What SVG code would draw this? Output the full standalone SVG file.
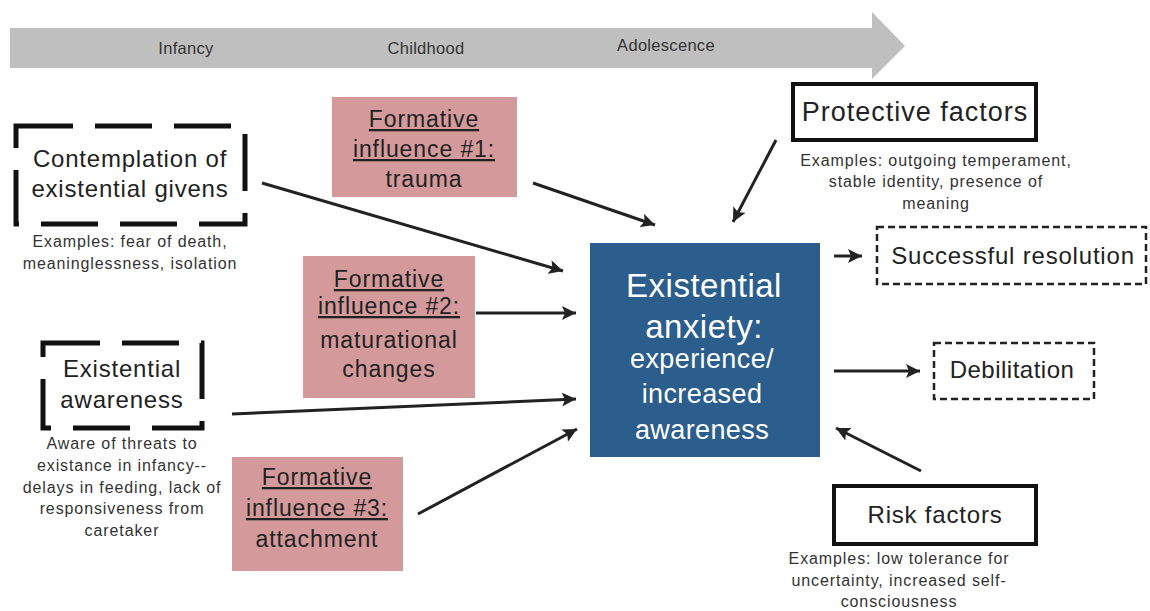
<svg xmlns="http://www.w3.org/2000/svg" width="1150" height="611" viewBox="0 0 1150 611">
<style>
text{font-family:"Liberation Sans",Arial,Helvetica,sans-serif;text-anchor:middle;fill:#222}
.tl{font-size:16.5px;fill:#333;letter-spacing:0.3px}
.node{font-size:24px;letter-spacing:0.8px}
.form{font-size:23px;letter-spacing:0.9px}
.u{text-decoration:underline}
.cap{font-size:16px;fill:#333;letter-spacing:0.9px}
.pink{fill:#d49a9b}
.thickdash{fill:#fff;stroke:#111;stroke-width:5;stroke-dasharray:57 22}
.thindash{fill:#fff;stroke:#222;stroke-width:2.5;stroke-dasharray:7 4}
.solid{fill:#fff;stroke:#111;stroke-width:4}
.center{font-size:33px;fill:#fff;letter-spacing:0.5px}
.center2{font-size:27px;fill:#fff;letter-spacing:0.4px}
.conn line{stroke:#222;stroke-width:3;marker-end:url(#ah)}
</style>
<defs>
<marker id="ah" markerUnits="userSpaceOnUse" markerWidth="16" markerHeight="14" refX="14" refY="7" orient="auto">
<path d="M0,0 L14,7 L0,14 L3,7 Z" fill="#222"/>
</marker>
</defs>
<rect width="1150" height="611" fill="#fff"/>

<g id="timeline">
<path d="M10,28 H872 V12 L905,46 L872,79 V68 H10 Z" fill="#bfbfbf"/>
<text class="tl" x="186" y="54">Infancy</text>
<text class="tl" x="426" y="54">Childhood</text>
<text class="tl" x="666" y="51">Adolescence</text>
</g>

<g class="conn" id="connectors">
<line x1="262" y1="183" x2="563" y2="271"/>
<line x1="533" y1="183" x2="655" y2="225"/>
<line x1="776" y1="140" x2="733" y2="222"/>
<line x1="476" y1="313" x2="576" y2="313"/>
<line x1="232" y1="414" x2="576" y2="399"/>
<line x1="418" y1="514" x2="577" y2="429"/>
<line x1="921" y1="471" x2="836" y2="428"/>
<line x1="834" y1="256" x2="862" y2="256"/>
<line x1="834" y1="371" x2="920" y2="371"/>
</g>

<g id="contemplation">
<rect class="thickdash" x="16" y="126" width="229" height="98"/>
<text class="node" x="130" y="167">Contemplation of</text>
<text class="node" x="130" y="197">existential givens</text>
<text class="cap" x="130" y="247">Examples: fear of death,</text>
<text class="cap" x="130" y="269">meaninglessness, isolation</text>
</g>

<g id="formative1">
<rect class="pink" x="332" y="97" width="185" height="100"/>
<text class="form u" x="424" y="127">Formative</text>
<text class="form u" x="424" y="157">influence #1:</text>
<text class="form" x="424" y="187">trauma</text>
</g>

<g id="formative2">
<rect class="pink" x="303" y="256" width="172" height="142"/>
<text class="form u" x="389" y="287">Formative</text>
<text class="form u" x="389" y="314">influence #2:</text>
<text class="form" x="389" y="348">maturational</text>
<text class="form" x="389" y="377">changes</text>
</g>

<g id="awareness">
<rect class="thickdash" x="43" y="343" width="159" height="85"/>
<text class="node" x="122" y="377">Existential</text>
<text class="node" x="122" y="408">awareness</text>
<text class="cap" x="122" y="449">Aware of threats to</text>
<text class="cap" x="122" y="471">existance in infancy--</text>
<text class="cap" x="122" y="493">delays in feeding, lack of</text>
<text class="cap" x="122" y="514">responsiveness from</text>
<text class="cap" x="122" y="536">caretaker</text>
</g>

<g id="formative3">
<rect class="pink" x="232" y="457" width="171" height="114"/>
<text class="form u" x="317" y="485">Formative</text>
<text class="form u" x="317" y="516">influence #3:</text>
<text class="form" x="317" y="547">attachment</text>
</g>

<g id="anxiety">
<rect x="590" y="243" width="230" height="214" fill="#2b5d8d"/>
<text class="center" x="704" y="297">Existential</text>
<text class="center" x="704" y="338">anxiety:</text>
<text class="center2" x="702" y="368">experience/</text>
<text class="center2" x="702" y="403">increased</text>
<text class="center2" x="702" y="439">awareness</text>
</g>

<g id="protective">
<rect class="solid" x="793" y="84" width="243" height="56"/>
<text class="node" style="font-size:27px;letter-spacing:1px" x="915" y="121">Protective factors</text>
<text class="cap" x="936" y="166">Examples: outgoing temperament,</text>
<text class="cap" x="936" y="187">stable identity, presence of</text>
<text class="cap" x="936" y="209">meaning</text>
</g>

<g id="successful">
<rect class="thindash" x="877" y="227" width="269" height="57"/>
<text class="node" x="1013" y="264">Successful resolution</text>
</g>

<g id="debilitation">
<rect class="thindash" x="934" y="343" width="160" height="56"/>
<text class="node" style="letter-spacing:0.5px" x="1012" y="378">Debilitation</text>
</g>

<g id="risk">
<rect class="solid" x="834" y="486" width="202" height="58"/>
<text class="node" x="935" y="523">Risk factors</text>
<text class="cap" x="899" y="564">Examples: low tolerance for</text>
<text class="cap" x="899" y="586">uncertainty, increased self-</text>
<text class="cap" x="899" y="607">consciousness</text>
</g>
</svg>
